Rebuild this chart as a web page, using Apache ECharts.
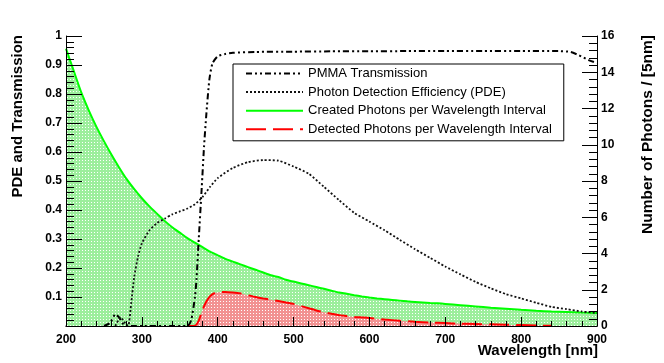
<!DOCTYPE html>
<html>
<head>
<meta charset="utf-8">
<script src="https://cdn.jsdelivr.net/npm/echarts@6/dist/echarts.min.js"></script>
<style>
  html, body { margin: 0; padding: 0; background: #fff; }
  #main { width: 664px; height: 363px; }
</style>
</head>
<body>
<div id="main"></div>
<script>
// created photons per 5nm bin (right axis)
const createdX = [200,210,220,230,240,250,260,270,280,290,300,310,320,330,340,350,360,370,380,390,
  400,410,420,430,440,450,460,470,480,490,500,510,520,530,540,550,560,570,580,590,
  600,610,620,630,640,650,660,670,680,690,700,720,740,760,780,800,820,840,860,880,900];
const createdY = [15.3,14.1,12.9,11.9,11.0,10.2,9.45,8.75,8.1,7.55,7.05,6.6,6.2,5.8,5.45,5.15,4.85,4.6,4.35,4.1,
  3.9,3.7,3.55,3.4,3.25,3.1,2.95,2.8,2.7,2.55,2.45,2.35,2.25,2.15,2.05,1.95,1.85,1.78,1.7,1.63,
  1.57,1.52,1.48,1.44,1.40,1.36,1.33,1.30,1.27,1.25,1.22,1.15,1.08,1.01,0.95,0.89,0.84,0.80,0.77,0.74,0.72];

// detected photons (right axis)
const detectedX = [360,370,375,380,385,390,395,400,410,420,430,440,450,460,470,480,490,500,510,520,
  530,540,550,560,570,580,590,600,620,640,660,680,700,720,740,760,780,800,820,840];
const detectedY = [0,0.02,0.3,0.9,1.35,1.65,1.8,1.86,1.88,1.85,1.8,1.7,1.6,1.52,1.45,1.38,1.3,1.22,1.1,0.98,
  0.86,0.76,0.68,0.6,0.55,0.5,0.47,0.44,0.36,0.29,0.23,0.19,0.16,0.13,0.11,0.09,0.07,0.05,0.03,0.01];

// PMMA transmission (left axis)
const pmmaX = [250,258,265,270,276,282,360,365,370,372,375,379,382,385,389,393,400,410,420,450,
  500,550,600,650,700,750,800,850,865,876,889,900];
const pmmaY = [0,0.01,0.04,0.03,0.005,0,0,0.02,0.1,0.16,0.3,0.48,0.62,0.73,0.85,0.905,0.93,0.938,0.942,0.945,
  0.946,0.947,0.947,0.948,0.948,0.948,0.948,0.948,0.945,0.934,0.917,0.907];

// photon detection efficiency (left axis)
const pdeX = [265,272,278,282,286,290,295,300,310,320,330,340,350,360,370,380,390,400,420,440,
  460,480,500,520,540,560,580,600,620,640,660,680,700,720,740,760,780,800,820,840,860,880,900];
const pdeY = [0,0.03,0.01,0,0.08,0.17,0.24,0.285,0.33,0.355,0.37,0.385,0.395,0.405,0.42,0.445,0.48,0.51,0.545,0.565,
  0.572,0.57,0.55,0.525,0.48,0.434,0.39,0.36,0.33,0.297,0.265,0.235,0.205,0.178,0.152,0.13,0.11,0.095,0.08,0.066,0.058,0.05,0.045];

function zip(xs, ys) {
  return xs.map((x, i) => [x, ys[i]]);
}

function makePattern(bg, fg) {
  const c = document.createElement('canvas');
  c.width = 3; c.height = 3;
  const ctx = c.getContext('2d');
  ctx.fillStyle = bg;
  ctx.fillRect(0, 0, 3, 3);
  ctx.fillStyle = fg;
  ctx.fillRect(1, 1, 1, 1);
  return c;
}

const chart = echarts.init(document.getElementById('main'), null, { renderer: 'canvas' });
const font = "'Liberation Sans', Arial, sans-serif";

var option = {
  animation: false,
  grid: { left: 66, right: 67, top: 36, bottom: 37 },
  legend: {
    orient: 'vertical',
    left: 233,
    top: 64,
    itemWidth: 57,
    itemHeight: 14,
    itemGap: 5.6,
    itemTextGap: 14,
    padding: [3, 12, 5, 12],
    borderColor: '#000',
    borderWidth: 1,
    borderRadius: 0,
    backgroundColor: '#fff',
    itemStyle: { color: 'rgba(0,0,0,0)', borderWidth: 0 },
    textStyle: { fontFamily: font, fontSize: 13, color: '#000' },
    data: ['PMMA Transmission', 'Photon Detection Efficiency (PDE)',
      'Created Photons per Wavelength Interval', 'Detected Photons per Wavelength Interval']
  },
  xAxis: [
    {
      type: 'value', min: 200, max: 900, interval: 100, position: 'bottom', z: 5,
      axisLine: { lineStyle: { color: '#000', width: 1 } },
      axisTick: { inside: true, length: 9, lineStyle: { color: '#000' } },
      minorTick: { show: true, splitNumber: 5, length: 5, lineStyle: { color: '#000' } },
      splitLine: { show: false },
      axisLabel: { fontFamily: font, fontWeight: 'bold', fontSize: 12, color: '#000', margin: 8 }
    },
    {
      type: 'value', min: 200, max: 900, position: 'top',
      axisLine: { lineStyle: { color: '#777', width: 1.5 } },
      axisTick: { show: false }, axisLabel: { show: false }, splitLine: { show: false }
    }
  ],
  yAxis: [
    {
      type: 'value', min: 0, max: 1, interval: 0.1, position: 'left', z: 5,
      axisLine: { show: true, lineStyle: { color: '#000' } },
      axisTick: { inside: true, length: 16, lineStyle: { color: '#000' } },
      minorTick: { show: true, splitNumber: 5, length: 8, lineStyle: { color: '#000' } },
      splitLine: { show: false },
      axisLabel: {
        fontFamily: font, fontWeight: 'bold', fontSize: 12, color: '#000', margin: 4,
        formatter: function (v) { return v === 0 ? '' : String(+v.toFixed(1)); }
      }
    },
    {
      type: 'value', min: 0, max: 16, interval: 2, position: 'right', z: 5,
      axisLine: { show: true, lineStyle: { color: '#000' } },
      axisTick: { inside: true, length: 15, lineStyle: { color: '#000' } },
      minorTick: { show: true, splitNumber: 5, length: 8, lineStyle: { color: '#000' } },
      splitLine: { show: false },
      axisLabel: { fontFamily: font, fontWeight: 'bold', fontSize: 12, color: '#000', margin: 4 }
    }
  ],
  graphic: [
    {
      type: 'text', x: 18, y: 35, rotation: Math.PI / 2,
      style: { text: 'PDE and Transmission', font: 'bold 15px ' + font, fill: '#000',
        textAlign: 'right', textVerticalAlign: 'middle' }
    },
    {
      type: 'text', x: 648, y: 35, rotation: Math.PI / 2,
      style: { text: 'Number of Photons / [5nm]', font: 'bold 15.5px ' + font, fill: '#000',
        textAlign: 'right', textVerticalAlign: 'middle' }
    },
    {
      type: 'text', x: 598, y: 351,
      style: { text: 'Wavelength [nm]', font: 'bold 15px ' + font, fill: '#000',
        textAlign: 'right', textVerticalAlign: 'middle' }
    }
  ],
  series: [
    {
      name: 'Created Photons per Wavelength Interval',
      type: 'line', yAxisIndex: 1, symbol: 'none', smooth: 0.2,
      data: zip(createdX, createdY),
      lineStyle: { color: '#00ff00', width: 2 },
      itemStyle: { color: '#00ff00' },
      areaStyle: { color: { image: makePattern('#9cee9c', '#ffffff'), repeat: 'repeat' }, opacity: 1 }
    },
    {
      name: 'Detected Photons per Wavelength Interval',
      type: 'line', yAxisIndex: 1, symbol: 'none', smooth: 0.2,
      data: zip(detectedX, detectedY),
      lineStyle: { color: '#ff0000', width: 2, type: [20, 7] },
      itemStyle: { color: '#ff0000' },
      areaStyle: { color: { image: makePattern('#f29292', '#ffffff'), repeat: 'repeat' }, opacity: 1 }
    },
    {
      name: 'PMMA Transmission',
      type: 'line', yAxisIndex: 0, symbol: 'none', smooth: 0.2,
      data: zip(pmmaX, pmmaY),
      lineStyle: { color: '#000', width: 2, type: [6, 3, 2, 3, 2, 3] },
      itemStyle: { color: '#000' }
    },
    {
      name: 'Photon Detection Efficiency (PDE)',
      type: 'line', yAxisIndex: 0, symbol: 'none', smooth: 0.2,
      data: zip(pdeX, pdeY),
      lineStyle: { color: '#111', width: 1.8, type: [2, 2] },
      itemStyle: { color: '#111' }
    }
  ]
};

chart.setOption(option);
</script>
</body>
</html>
